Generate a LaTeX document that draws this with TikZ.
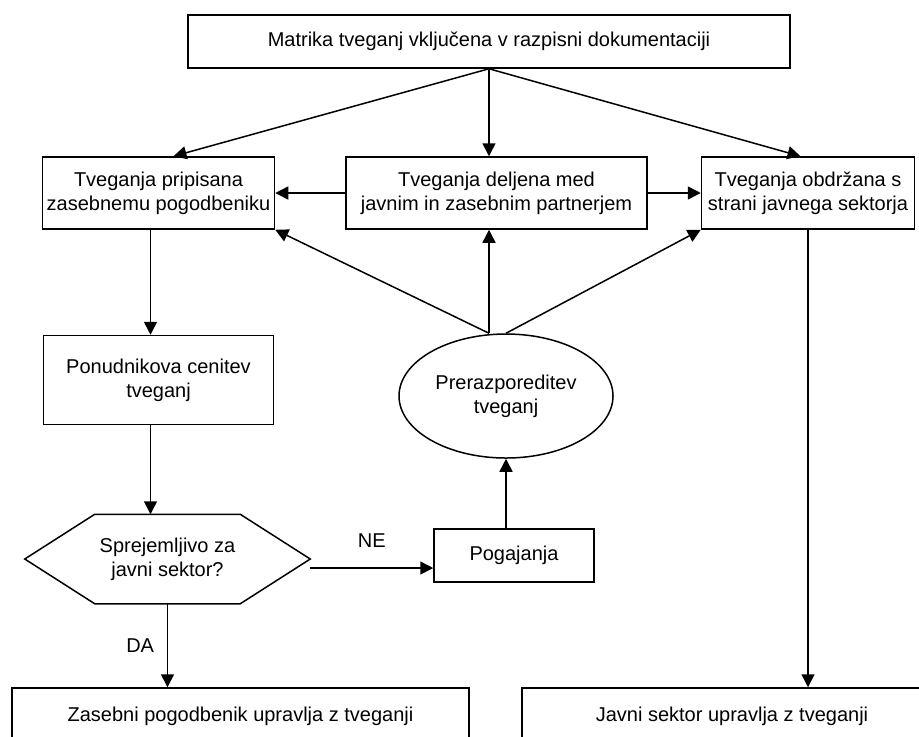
\documentclass[tikz,border=0pt]{standalone}
\usepackage{fontspec}
\setmainfont{Liberation Sans}
\usetikzlibrary{arrows.meta,positioning,shapes.geometric}

\begin{document}
\begin{tikzpicture}[x=0.5pt,y=-0.5pt,font=\fontsize{10}{12}\selectfont,>={Triangle[length=6.5pt,width=6.5pt]},line width=0.75pt,
  box/.style={draw,align=center,inner sep=1pt,minimum height=36pt}]
\useasboundingbox (0,0) rectangle (919,736);
\node[box,minimum width=301pt,minimum height=26.5pt] (mat) at (489,41.5) {Matrika tveganj vključena v razpisni dokumentaciji};
\node[box,minimum width=150.5pt] (del) at (496.5,193) {Tveganja deljena med\\javnim in zasebnim partnerjem};
\node[box,minimum width=116pt,left=35pt of del] (pri) {Tveganja pripisana\\zasebnemu pogodbeniku};
\node[box,minimum width=106.5pt,right=26.5pt of del] (obd) {Tveganja obdržana s\\strani javnega sektorja};
\node[box,minimum width=115pt,minimum height=44.5pt,below=52.5pt of pri] (pon) {Ponudnikova cenitev\\tveganj};
\node[draw,ellipse,align=center,minimum width=107pt,minimum height=62pt,inner sep=0pt] (prz) at (506,396) {Prerazporeditev\\tveganj};
\node[align=center,minimum width=142pt,minimum height=44pt,inner sep=0pt,below=44.5pt of pon,xshift=4.5pt] (hx) {Sprejemljivo za\\javni sektor?};
\draw ([xshift=35pt]hx.north west)--([xshift=-35pt]hx.north east)--(hx.east)--([xshift=-35pt]hx.south east)--([xshift=35pt]hx.south west)--(hx.west)--cycle;
\node[box,minimum width=80pt,minimum height=26.5pt] (pog) at (514,555.5) {Pogajanja};
\node[box,minimum width=228.5pt,minimum height=28pt] (zpu) at (240.5,716) {Zasebni pogodbenik upravlja z tveganji};
\node[box,minimum width=210pt,minimum height=28pt] (jsu) at (732,716) {Javni sektor upravlja z tveganji};
% od matrike navzdol
\draw[->] (mat.south)--([xshift=7.5pt]pri.north);
\draw[->] (mat.south)--(mat.south |- del.north);
\draw[->] (mat.south)--([xshift=-3.75pt]obd.north);
\draw[->] (del.west)--(pri.east);\draw[->] (del.east)--(obd.west);
% prerazporeditev
\coordinate (ptop) at (mat.south |- prz.north);
\draw[->] (ptop)--(pri.south east);
\draw[->] (ptop)--(ptop |- del.south);
\draw[->] (prz.north)--(obd.south west);
\draw[->] (prz |- pog.north)--(prz.south);
% leva veja
\draw[->] ([xshift=-4pt]pri.south)--([xshift=-4pt]pon.north);
\draw[->] ([xshift=-4pt]pon.south)--([xshift=-4pt]pon.south |- hx.north);
\draw[->] (hx.south)--(hx.south |- zpu.north) node[midway,left=3pt] {DA};
\draw[->] ([yshift=-4.5pt]hx.east)--([yshift=-4.5pt]hx.east -| pog.west) node[midway,above=6.5pt] {NE};
\draw[->] (obd.south)--(obd.south |- jsu.north);
\end{tikzpicture}
\end{document}
